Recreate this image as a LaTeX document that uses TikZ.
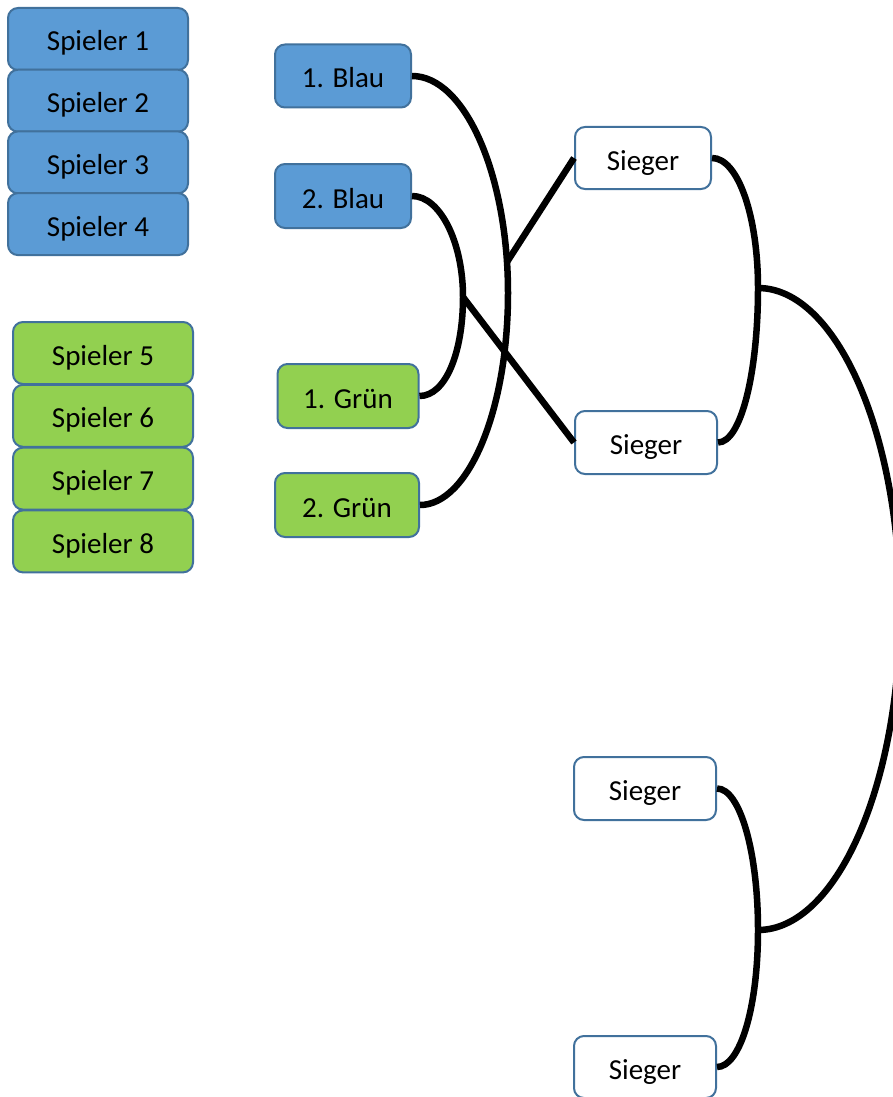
\documentclass[tikz,border=0pt]{standalone}
\usepackage{fontspec}
\setmainfont{Carlito}
\definecolor{blau}{HTML}{5B9BD5}
\definecolor{gruen}{HTML}{92D050}
\definecolor{rand}{HTML}{41719C}
\tikzset{
  feld/.style={draw=rand, line width=2pt, rounded corners=10pt, inner sep=0pt,
    text height=26pt, text depth=2pt, font=\fontsize{29}{34}\selectfont},
  spieler/.style={feld, minimum width=180pt, minimum height=62pt},
  gruppe/.style={feld, minimum width=136pt, minimum height=63pt},
  sieger/.style={feld, fill=white, minimum width=142pt, minimum height=63pt},
  verbindung/.style={line width=6.5pt, black}
}
\begin{document}
\begin{tikzpicture}[x=1pt, y=-1pt]
\useasboundingbox (0,0) rectangle (893,1097);
% Gruppe Blau
\node[spieler, fill=blau] (sp1) at (98,39) {Spieler 1};
\node[spieler, fill=blau] (sp2) at (98,100.7) {Spieler 2};
\node[spieler, fill=blau] (sp3) at (98,162.4) {Spieler 3};
\node[spieler, fill=blau] (sp4) at (98,224.1) {Spieler 4};
% Gruppe Gruen
\node[spieler, fill=gruen] (sp5) at (103,353) {Spieler 5};
\node[spieler, fill=gruen] (sp6) at (103,415.8) {Spieler 6};
\node[spieler, fill=gruen] (sp7) at (103,478.6) {Spieler 7};
\node[spieler, fill=gruen] (sp8) at (103,541.4) {Spieler 8};
% Platzierte
\node[gruppe, fill=blau] (b1) at (343,76) {1. Blau};
\node[gruppe, fill=blau, minimum height=64pt] (b2) at (343,196) {2. Blau};
\node[gruppe, fill=gruen, minimum width=141pt, minimum height=64pt] (g1) at (348,396) {1. Grün};
\node[gruppe, fill=gruen, minimum width=144pt, minimum height=64pt] (g2) at (347,505) {2. Grün};
% Sieger
\node[sieger, minimum width=136pt, minimum height=62pt] (s1) at (643,158) {Sieger};
\node[sieger] (s2) at (646,442.5) {Sieger};
\node[sieger] (s3) at (645,788.5) {Sieger};
\node[sieger, minimum height=62pt] (s4) at (645,1067) {Sieger};
% Knoten der Boegen
\coordinate (ka) at (508,293);
\coordinate (ka1) at (507,262);
\coordinate (kb) at (463,297);
\coordinate (kc) at (758,288);
\coordinate (kd) at (900,610);
\coordinate (ke) at (758,930);
% Boegen
\draw[verbindung] (b1.east) .. controls +(53,0) and +(0,-118) .. (ka)
  .. controls +(0,118) and +(48,0) .. (g2.east);
\draw[verbindung] (b2.east) .. controls +(28,0) and +(0,-55) .. (kb)
  .. controls +(0,56) and +(26,0) .. (g1.east);
\draw[verbindung] (ka1) -- (s1.west);
\draw[verbindung] (kb) -- (s2.west);
\draw[verbindung] (s1.east) .. controls +(26,0) and +(0,-72) .. (kc)
  .. controls +(0,85) and +(23,0) .. (s2.east);
\draw[verbindung] (kc) .. controls +(78,0) and +(0,-177) .. (kd)
  .. controls +(0,176) and +(78,0) .. (ke);
\draw[verbindung] (s3.east) .. controls +(23,0) and +(0,-78) .. (ke)
  .. controls +(0,78) and +(23,0) .. (s4.east);
\end{tikzpicture}
\end{document}
